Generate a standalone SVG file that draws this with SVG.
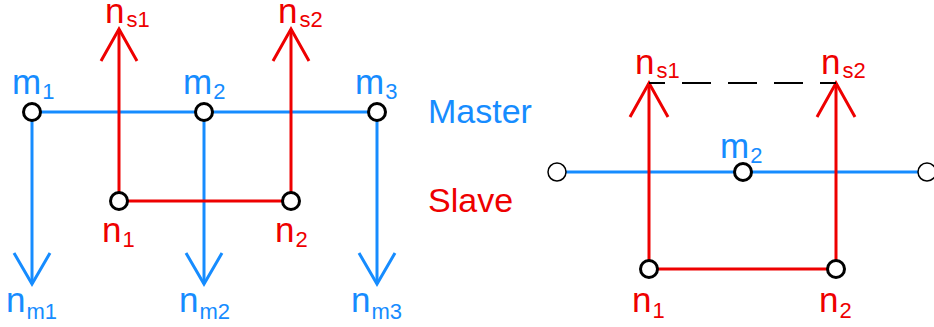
<svg xmlns="http://www.w3.org/2000/svg" width="934" height="327" viewBox="0 0 934 327">
  <style>
    .bl { stroke: #168cff; stroke-width: 3; fill: none; }
    .rd { stroke: #ee0000; stroke-width: 3; fill: none; }
    .dash { stroke: #000; stroke-width: 2; fill: none; stroke-dasharray: 29 17; stroke-dashoffset: 13; }
    .node { fill: #fff; stroke: #000; stroke-width: 3; }
    .end { fill: #fff; stroke: #000; stroke-width: 1.5; }
    text { font-family: "Liberation Sans", Arial, sans-serif; font-size: 35px; }
    .tb { fill: #168cff; }
    .tr { fill: #ee0000; }
    .lg { font-size: 34px; }
    .sub { font-size: 22px; }
  </style>

  <!-- connectors: lines and open arrowheads -->
  <g id="connectors">
    <!-- left: master beam and master normals -->
    <line class="bl" x1="32" y1="112" x2="377" y2="112"/>
    <line class="bl" x1="32" y1="112" x2="32" y2="284"/>
    <polyline class="bl" points="14,253 32,284 50,253"/>
    <line class="bl" x1="204" y1="112" x2="204" y2="284"/>
    <polyline class="bl" points="186,253 204,284 222,253"/>
    <line class="bl" x1="377" y1="112" x2="377" y2="284"/>
    <polyline class="bl" points="359,253 377,284 395,253"/>
    <!-- left: slave segment and slave normals -->
    <line class="rd" x1="119" y1="201" x2="291" y2="201"/>
    <line class="rd" x1="119" y1="201" x2="119" y2="29"/>
    <polyline class="rd" points="101,61 119,29 137,61"/>
    <line class="rd" x1="291" y1="201" x2="291" y2="29"/>
    <polyline class="rd" points="273,61 291,29 309,61"/>

    <!-- right: master beam -->
    <line class="bl" x1="557" y1="172" x2="927" y2="172"/>
    <!-- right: slave segment and normals -->
    <line class="rd" x1="649" y1="269" x2="836" y2="269"/>
    <line class="rd" x1="649" y1="269" x2="649" y2="83"/>
    <polyline class="rd" points="630,117 649,83 668,117"/>
    <line class="rd" x1="836" y1="269" x2="836" y2="83"/>
    <polyline class="rd" points="817,117 836,83 855,117"/>
    <line class="dash" x1="649" y1="83" x2="836" y2="83"/>
  </g>

  <!-- left diagram nodes -->
  <g id="m1"><circle class="node" cx="32" cy="112" r="8.5"/><text class="tb" x="12" y="94">m<tspan class="sub" dx="1" dy="5">1</tspan></text></g>
  <g id="m2"><circle class="node" cx="204" cy="112" r="8.5"/><text class="tb" x="183" y="94">m<tspan class="sub" dx="1" dy="5">2</tspan></text></g>
  <g id="m3"><circle class="node" cx="377" cy="112" r="8.5"/><text class="tb" x="355" y="94">m<tspan class="sub" dx="1" dy="5">3</tspan></text></g>
  <g id="n1"><circle class="node" cx="119" cy="201" r="8.5"/><text class="tr" x="102" y="242">n<tspan class="sub" dx="1" dy="5">1</tspan></text></g>
  <g id="n2"><circle class="node" cx="291" cy="201" r="8.5"/><text class="tr" x="275" y="242">n<tspan class="sub" dx="1" dy="5">2</tspan></text></g>
  <g id="ns1"><text class="tr" x="105" y="23">n<tspan class="sub" dx="2" dy="4">s1</tspan></text></g>
  <g id="ns2"><text class="tr" x="278" y="23">n<tspan class="sub" dx="2" dy="4">s2</tspan></text></g>
  <g id="nm1"><text class="tb" x="6" y="312">n<tspan class="sub" dx="1" dy="7">m1</tspan></text></g>
  <g id="nm2"><text class="tb" x="179" y="312">n<tspan class="sub" dx="1" dy="7">m2</tspan></text></g>
  <g id="nm3"><text class="tb" x="351" y="312">n<tspan class="sub" dx="1" dy="7">m3</tspan></text></g>

  <!-- side legend -->
  <g id="legend-master"><text class="tb lg" x="428" y="123">Master</text></g>
  <g id="legend-slave"><text class="tr lg" x="428" y="212">Slave</text></g>

  <!-- right diagram nodes -->
  <g id="r-end-left"><circle class="end" cx="557" cy="172" r="9"/></g>
  <g id="r-end-right"><circle class="end" cx="927" cy="172" r="9"/></g>
  <g id="r-m2"><circle class="node" cx="743" cy="172" r="8.5"/><text class="tb" x="720" y="158">m<tspan class="sub" dx="1" dy="5">2</tspan></text></g>
  <g id="r-n1"><circle class="node" cx="649" cy="269" r="8.5"/><text class="tr" x="632" y="312">n<tspan class="sub" dx="1" dy="6">1</tspan></text></g>
  <g id="r-n2"><circle class="node" cx="836" cy="269" r="8.5"/><text class="tr" x="819" y="312">n<tspan class="sub" dx="1" dy="6">2</tspan></text></g>
  <g id="r-ns1"><text class="tr" x="635" y="74">n<tspan class="sub" dx="2" dy="4">s1</tspan></text></g>
  <g id="r-ns2"><text class="tr" x="821" y="74">n<tspan class="sub" dx="2" dy="4">s2</tspan></text></g>
</svg>
